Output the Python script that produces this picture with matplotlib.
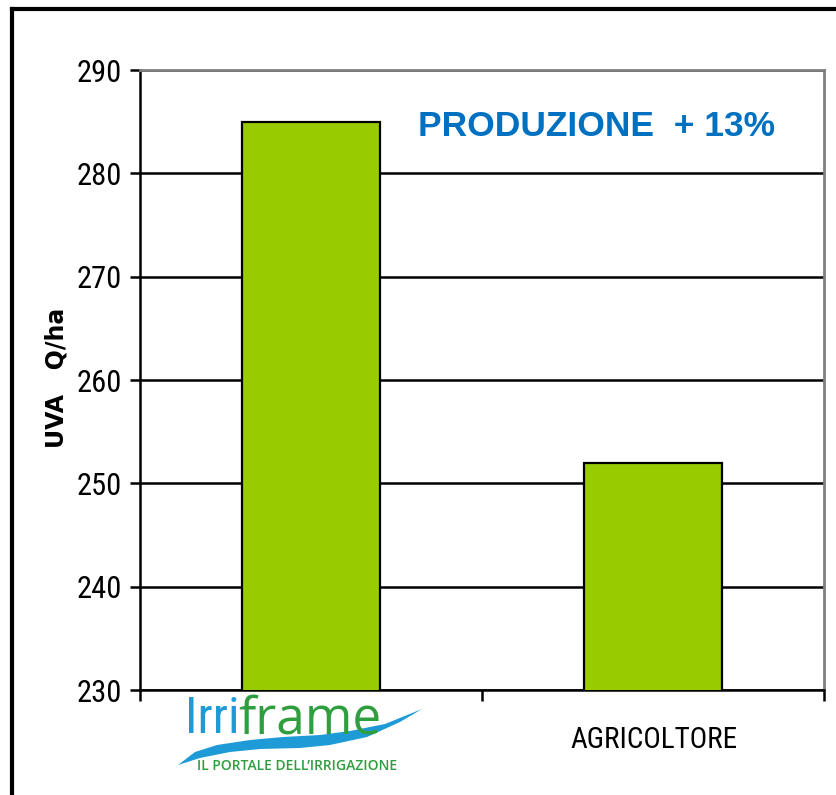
import matplotlib
matplotlib.use("Agg")
import matplotlib.pyplot as plt
import numpy as np
from matplotlib.lines import Line2D
from matplotlib.patches import Polygon
from matplotlib import font_manager
from matplotlib.font_manager import FontProperties

# ---- pick a condensed font if one is installed ----
def find_narrow():
    fl = font_manager.fontManager.ttflist
    def ok(f):
        return f.style == "normal" and f.weight in (400, "normal", "regular")
    for f in fl:
        if f.name == "Liberation Sans Narrow" and ok(f):
            return f.fname, True
    for f in fl:
        if f.name == "Roboto Condensed" and ok(f):
            return f.fname, True
    for f in fl:
        if "condensed" in str(f.stretch) and f.name in ("DejaVu Sans", "Noto Sans", "Open Sans", "Roboto") and ok(f):
            return f.fname, True
    return None, False

narrow_path, has_narrow = find_narrow()
if has_narrow:
    def nfp(size):
        return FontProperties(fname=narrow_path, size=size)
else:
    def nfp(size):
        return FontProperties(family="Liberation Sans", size=size * 0.92)

categories = ["IRRIFRAME", "AGRICOLTORE"]
values = [285.0, 252.0]
yticks = [230, 240, 250, 260, 270, 280, 290]

W, H = 836, 795
fig = plt.figure(figsize=(W / 100, H / 100), dpi=100)
ax = fig.add_axes([140 / W, 1 - 690 / H, (824 - 140) / W, (690 - 70) / H])

x = np.arange(len(categories))
ax.bar(x, values, width=0.405, color="#99CC00", edgecolor="black", linewidth=1.6, zorder=3)
ax.set_xlim(-0.5, 1.5)
ax.set_ylim(230, 290)
ax.set_yticks(yticks)
ax.set_yticklabels([str(t) for t in yticks])
for lab in ax.get_yticklabels():
    lab.set_fontproperties(nfp(22))
ax.yaxis.grid(True, color="black", linewidth=1.8, zorder=1)
ax.set_axisbelow(True)
ax.tick_params(axis="y", length=7, width=1.8, direction="out", pad=6)
ax.set_xticks([-0.5, 0.5, 1.5])
ax.set_xticklabels([])
ax.tick_params(axis="x", length=8, width=1.8, direction="out")
for s in ["left", "bottom"]:
    ax.spines[s].set_linewidth(1.8)
    ax.spines[s].set_color("black")
for s in ["top", "right"]:
    ax.spines[s].set_linewidth(2)
    ax.spines[s].set_color("#808080")

# y label
fig.text(57 / W, 1 - 378 / H, "UVA   Q/ha", fontsize=17, fontweight="bold",
         fontfamily="DejaVu Sans", rotation=90, ha="center", va="center", color="black")

fig.text(597 / W, 1 - 127 / H, "PRODUZIONE  + 13%", color="#0070C0", fontsize=25.5,
         fontweight="bold", fontfamily="Liberation Sans", ha="center", va="center")

# second category label
fig.text(654 / W, 1 - 740 / H, categories[1], fontproperties=nfp(21),
         ha="center", va="center", color="black")

# Irriframe logo (first category label)
irri_fp = nfp(36)
irri_fp.set_weight("light")
fig.text(239 / W, 1 - 733 / H, "Irri", color="#1E9BD7", fontproperties=irri_fp,
         ha="right", va="baseline")
fig.text(238 / W, 1 - 733 / H, "frame", color="#2E9E3E", fontsize=37,
         fontfamily="Open Sans", ha="left", va="baseline")
upper = [(178, 765), (195, 752), (217, 745), (250, 740), (283, 737), (320, 735),
         (350, 731), (385, 724), (422, 709)]
lower = [(422, 709), (400, 722), (367, 737), (330, 745), (300, 748), (260, 749),
         (230, 752), (200, 758), (178, 765)]
pts = np.array(upper + lower, dtype=float)
pts_fig = np.column_stack([pts[:, 0] / W, 1 - pts[:, 1] / H])
fig.patches.append(Polygon(pts_fig, closed=True, transform=fig.transFigure,
                           facecolor="#1E9BD7", edgecolor="none"))
fig.text(297 / W, 1 - 766 / H, "IL PORTALE DELL\u2019IRRIGAZIONE", color="#2E9E3E", fontsize=10,
         fontweight="semibold", fontfamily="Open Sans", ha="center", va="center")

# outer frame (left and top edges)
fig.add_artist(Line2D([11.5 / W, 11.5 / W], [0, 1 - 9 / H], color="black", linewidth=3, transform=fig.transFigure))
fig.add_artist(Line2D([11.5 / W, 1], [1 - 9 / H, 1 - 9 / H], color="black", linewidth=3, transform=fig.transFigure))

fig.savefig("out.png", dpi=100)
